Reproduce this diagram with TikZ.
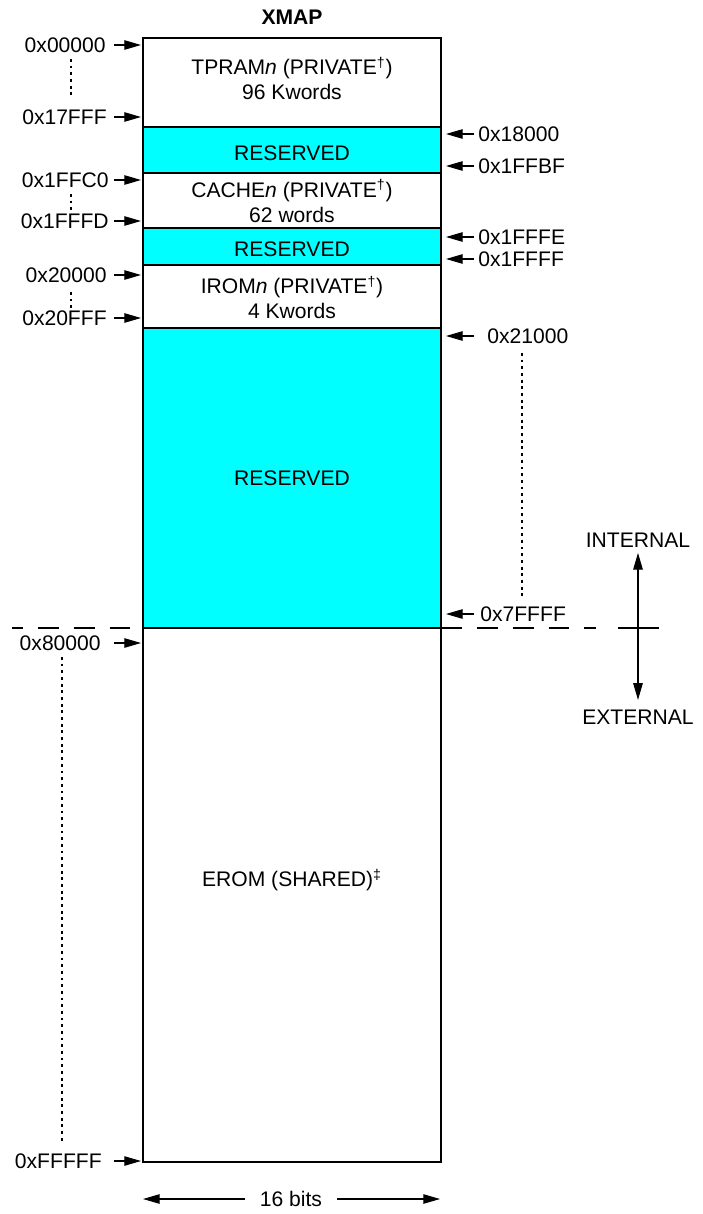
\documentclass[tikz,border=0pt]{standalone}
\usepackage{fontspec}
\setmainfont{Liberation Sans}
\usetikzlibrary{arrows.meta}
\definecolor{rescyan}{RGB}{0,255,255}

\begin{document}
\begin{tikzpicture}[x=0.2mm, y=-0.2mm, >={Triangle[length=9.5pt, width=5.4pt]},
    font=\fontsize{12}{14.2}\selectfont]
  \tikzset{
    region/.style={draw, line width=1.1pt},
    reserved/.style={region, fill=rescyan},
    addr/.style={inner sep=0pt},
    ptr/.style={->, line width=0.6pt},
    dotline/.style={line width=1.6pt, dash pattern=on 1.6pt off 2.2pt},
    border/.style={line width=0.6pt, dash pattern=on 11.9pt off 8.5pt}
  }
  \useasboundingbox (0,0) rectangle (702,1214);

  % Titel
  \node[font=\fontsize{12}{14.2}\selectfont\bfseries] (title) at (292,17) {XMAP};

  % Speicherbereiche
  \draw[region] (143,38) rectangle (441,127);
  \draw[reserved] (143,127) rectangle (441,173);
  \draw[region] (143,173) rectangle (441,228);
  \draw[reserved] (143,228) rectangle (441,265);
  \draw[region] (143,265) rectangle (441,328);
  \draw[reserved] (143,328) rectangle (441,628);
  \draw[region] (143,628) rectangle (441,1162);

  \node[align=center] (tpram) at (292,78.5) {TPRAM\textit{n} (PRIVATE\textsuperscript{†})\\96 Kwords};
  \node (res1) at (292,153) {RESERVED};
  \node[align=center] (cache) at (292,201) {CACHE\textit{n} (PRIVATE\textsuperscript{†})\\62 words};
  \node (res2) at (292,249) {RESERVED};
  \node[align=center] (irom) at (292,297.5) {IROM\textit{n} (PRIVATE\textsuperscript{†})\\4 Kwords};
  \node (res3) at (292,478) {RESERVED};
  \node (erom) at (292,880) {EROM (SHARED)\textsuperscript{‡}};

  % Hilfspunkte fuer die Pfeile
  \coordinate (arrL) at (114,0);
  \coordinate (boxL) at (141,0);
  \coordinate (arrR) at (474,0);
  \coordinate (boxR) at (446,0);

  % Adressen links
  \node[addr, anchor=east] (a00000) at (106,45) {0x00000};
  \draw[ptr] (a00000.east -| arrL) -- (a00000 -| boxL);
  \node[addr, anchor=east] (a17FFF) at (107,117) {0x17FFF};
  \draw[ptr] (a17FFF.east -| arrL) -- (a17FFF -| boxL);
  \node[addr, anchor=east] (a1FFC0) at (109,180) {0x1FFC0};
  \draw[ptr] (a1FFC0.east -| arrL) -- (a1FFC0 -| boxL);
  \node[addr, anchor=east] (a1FFFD) at (109,221) {0x1FFFD};
  \draw[ptr] (a1FFFD.east -| arrL) -- (a1FFFD -| boxL);
  \node[addr, anchor=east] (a20000) at (107,275) {0x20000};
  \draw[ptr] (a20000.east -| arrL) -- (a20000 -| boxL);
  \node[addr, anchor=east] (a20FFF) at (107,318) {0x20FFF};
  \draw[ptr] (a20FFF.east -| arrL) -- (a20FFF -| boxL);
  \node[addr, anchor=east] (a80000) at (101,643) {0x80000};
  \draw[ptr] (a80000.east -| arrL) -- (a80000 -| boxL);
  \node[addr, anchor=east] (aFFFFF) at (102,1161) {0xFFFFF};
  \draw[ptr] (aFFFFF.east -| arrL) -- (aFFFFF -| boxL);

  \draw[dotline] (71,59) -- (71,98);
  \draw[dotline] (71,194) -- (71,210);
  \draw[dotline] (71,292) -- (71,308);
  \draw[dotline] (62,657) -- (62,1142);

  % Adressen rechts
  \node[addr, anchor=west] (a18000) at (478,134) {0x18000};
  \draw[ptr] (a18000.west -| arrR) -- (a18000 -| boxR);
  \node[addr, anchor=west] (a1FFBF) at (478,166) {0x1FFBF};
  \draw[ptr] (a1FFBF.west -| arrR) -- (a1FFBF -| boxR);
  \node[addr, anchor=west] (a1FFFE) at (478,237) {0x1FFFE};
  \draw[ptr] (a1FFFE.west -| arrR) -- (a1FFFE -| boxR);
  \node[addr, anchor=west] (a1FFFF) at (478,259) {0x1FFFF};
  \draw[ptr] (a1FFFF.west -| arrR) -- (a1FFFF -| boxR);
  \node[addr, anchor=west] (a21000) at (487,336) {0x21000};
  \draw[ptr] (a21000.west -| arrR) -- (a21000 -| boxR);
  \node[addr, anchor=west] (a7FFFF) at (480,614) {0x7FFFF};
  \draw[ptr] (a7FFFF.west -| arrR) -- (a7FFFF -| boxR);

  \draw[dotline] (522,353) -- (522,600);

  % Grenze intern/extern
  \draw[border, dash phase=5.7pt] (12,628) -- (143,628);
  \draw[border] (441,628) -- (596,628);
  \draw[line width=1.1pt] (618,628) -- (659,628);
  \node[addr] (int) at (638,540) {INTERNAL};
  \node[addr] (ext) at (638,717) {EXTERNAL};
  \draw[ptr, <->, shorten <=3pt, shorten >=5.4pt] (int) -- (ext);

  % Breite
  \coordinate (bitsL) at (143,0);
  \coordinate (bitsR) at (440,0);
  \node[addr] (bits) at (291,1199) {16 bits};
  \draw[ptr, shorten <=8.5pt] (bits) -- (bits -| bitsL);
  \draw[ptr, shorten <=8.5pt] (bits) -- (bits -| bitsR);
\end{tikzpicture}
\end{document}
